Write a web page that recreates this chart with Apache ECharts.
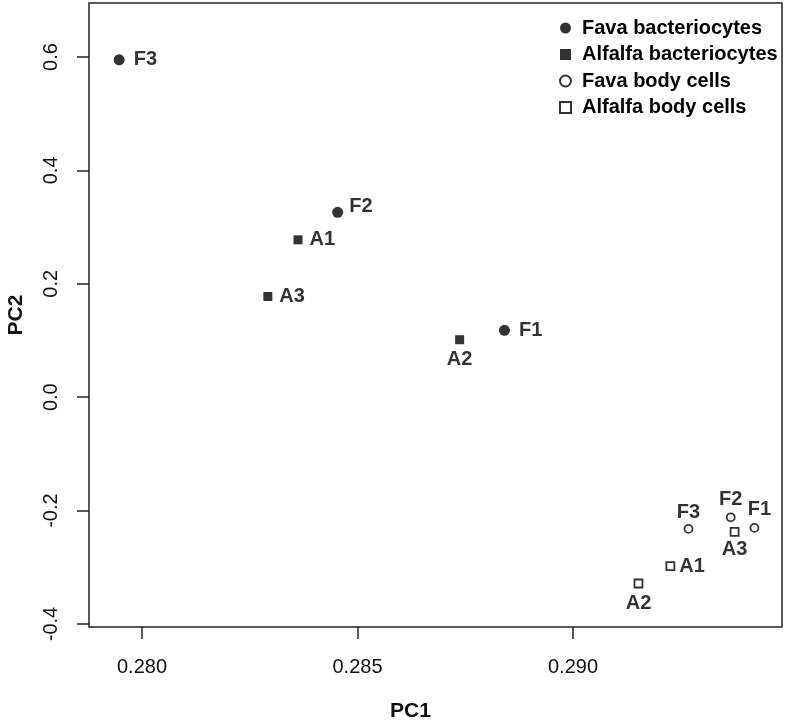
<!DOCTYPE html>
<html>
<head>
<meta charset="utf-8">
<script src="https://cdn.jsdelivr.net/npm/echarts@6/dist/echarts.min.js"></script>
<style>
html,body{margin:0;padding:0;background:#fff;}
#chart{width:789px;height:722px;}
</style>
</head>
<body>
<div id="chart"></div>
<script>
// ---- data ----
var seriesNames = ['Fava bacteriocytes', 'Alfalfa bacteriocytes', 'Fava body cells', 'Alfalfa body cells'];

var favaBactLabels = ['F1', 'F2', 'F3'];
var favaBactPC1 = [0.28841, 0.28454, 0.27947];
var favaBactPC2 = [0.118, 0.326, 0.595];

var alfBactLabels = ['A1', 'A2', 'A3'];
var alfBactPC1 = [0.28362, 0.28737, 0.28292];
var alfBactPC2 = [0.2775, 0.1013, 0.1776];

var favaBodyLabels = ['F1', 'F2', 'F3'];
var favaBodyPC1 = [0.29421, 0.29366, 0.29268];
var favaBodyPC2 = [-0.2305, -0.2118, -0.2323];

var alfBodyLabels = ['A1', 'A2', 'A3'];
var alfBodyPC1 = [0.29226, 0.29152, 0.29375];
var alfBodyPC2 = [-0.298, -0.3286, -0.2375];

var xTicks = [0.280, 0.285, 0.290];
var yTicks = [-0.4, -0.2, 0.0, 0.2, 0.4, 0.6];

// ---- label placement (style only) ----
var labelPlace = {
  favaBact: [{position: 'right', distance: 9}, {position: 'right', distance: 6, offset: [0, -6]}, {position: 'right', distance: 9}],
  alfBact: [{position: 'right', distance: 7}, {position: 'bottom', distance: 5}, {position: 'right', distance: 7}],
  favaBody: [{position: 'top', distance: 4, offset: [5, 0]}, {position: 'top', distance: 3}, {position: 'top', distance: 2}],
  alfBody: [{position: 'right', distance: 4}, {position: 'bottom', distance: 5}, {position: 'bottom', distance: 3}]
};

function build(labels, xs, ys, place) {
  return labels.map(function (n, i) {
    return {name: n, value: [xs[i], ys[i]], label: place[i]};
  });
}

var font = '"Liberation Sans", Arial, sans-serif';
var labelStyle = {show: true, formatter: '{b}', color: '#000', fontFamily: font, fontWeight: 'bold', fontSize: 20};

var chart = echarts.init(document.getElementById('chart'));
chart.setOption({
  animation: false,
  backgroundColor: '#fff',
  grid: {left: 89, right: 7, top: 3, bottom: 95, show: true, borderColor: '#222', borderWidth: 1.5,
    containLabel: false, outerBoundsMode: 'none'},
  legend: {
    orient: 'vertical', left: 559, top: 18, padding: 0,
    itemWidth: 11, itemHeight: 11, itemGap: 6.5,
    textStyle: {fontFamily: font, fontWeight: 'bold', fontSize: 20, color: '#000', lineHeight: 20, padding: [0, 0, 0, 6]},
    data: seriesNames
  },
  xAxis: {
    type: 'value', min: 0.27877, max: 0.29485,
    splitLine: {show: false},
    axisLine: {show: false, onZero: false},
    axisTick: {show: true, length: 12, inside: false, customValues: xTicks, lineStyle: {color: '#222', width: 1.5}},
    axisLabel: {customValues: xTicks, margin: 30, fontFamily: font, fontSize: 20, color: '#111',
      formatter: function (v) { return v.toFixed(3); }},
    name: 'PC1', nameLocation: 'middle', nameGap: 74,
    nameTextStyle: {fontFamily: font, fontWeight: 'bold', fontSize: 21, color: '#111', padding: [0, 50, 0, 0]}
  },
  yAxis: {
    type: 'value', min: -0.4053, max: 0.6952,
    splitLine: {show: false},
    axisLine: {show: false, onZero: false},
    axisTick: {show: true, length: 12, inside: false, customValues: yTicks, lineStyle: {color: '#222', width: 1.5}},
    axisLabel: {customValues: yTicks, rotate: 90, margin: 28, fontFamily: font, fontSize: 20, color: '#111',
      formatter: function (v) { return v.toFixed(1); }},
    name: 'PC2', nameLocation: 'middle', nameGap: 62,
    nameTextStyle: {fontFamily: font, fontWeight: 'bold', fontSize: 21, color: '#111'}
  },
  series: [
    {name: seriesNames[0], type: 'scatter', symbol: 'circle', symbolSize: 11,
      itemStyle: {color: '#000'}, label: labelStyle,
      data: build(favaBactLabels, favaBactPC1, favaBactPC2, labelPlace.favaBact)},
    {name: seriesNames[1], type: 'scatter', symbol: 'rect', symbolSize: 9,
      itemStyle: {color: '#000'}, label: labelStyle,
      data: build(alfBactLabels, alfBactPC1, alfBactPC2, labelPlace.alfBact)},
    {name: seriesNames[2], type: 'scatter', symbol: 'circle', symbolSize: 8,
      itemStyle: {color: '#fff', borderColor: '#000', borderWidth: 1.8}, label: labelStyle,
      data: build(favaBodyLabels, favaBodyPC1, favaBodyPC2, labelPlace.favaBody)},
    {name: seriesNames[3], type: 'scatter', symbol: 'rect', symbolSize: 8,
      itemStyle: {color: '#fff', borderColor: '#000', borderWidth: 1.8}, label: labelStyle,
      data: build(alfBodyLabels, alfBodyPC1, alfBodyPC2, labelPlace.alfBody)}
  ]
});
</script>
</body>
</html>
